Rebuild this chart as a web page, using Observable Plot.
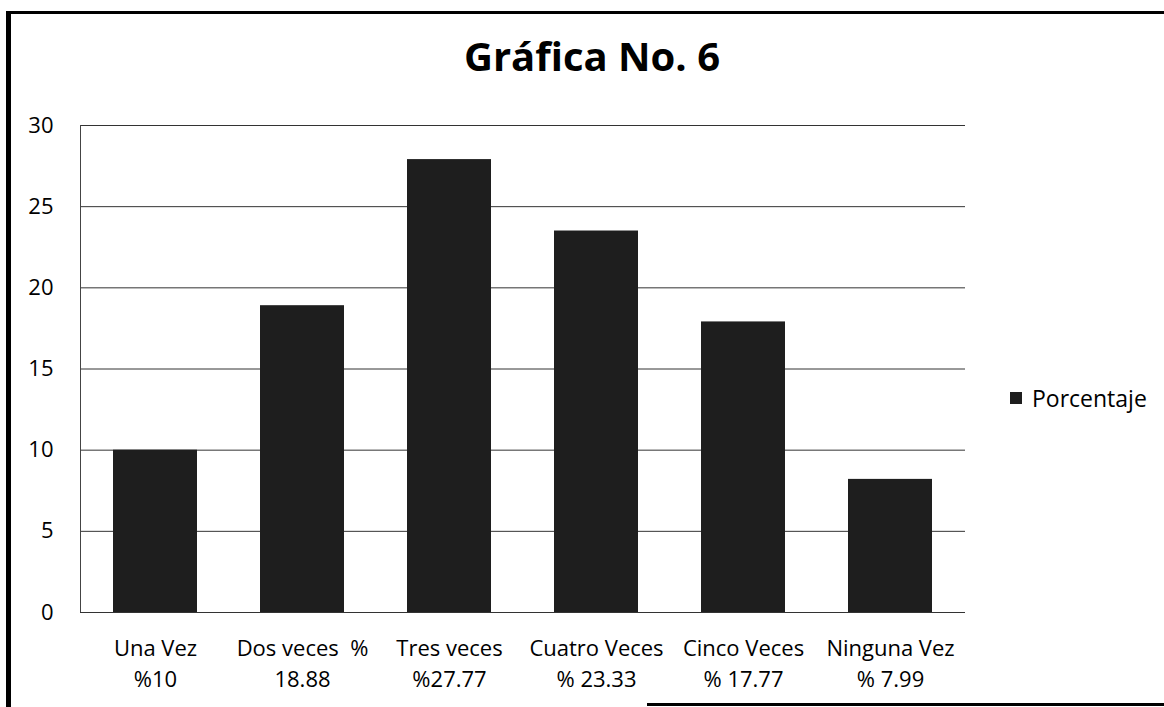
<!DOCTYPE html>
<html>
<head>
<meta charset="utf-8">
<script src="https://cdn.jsdelivr.net/npm/d3@7"></script>
<script src="https://cdn.jsdelivr.net/npm/@observablehq/plot@0.6"></script>
<style>
  html, body { margin: 0; padding: 0; background: #fff; }
  #wrap { position: relative; width: 1164px; height: 707px; overflow: hidden; font-family: "Open Sans", sans-serif; color: #000; }
  #chart { position: absolute; left: 0; top: 0; }
  #title { position: absolute; left: 0; width: 1164px; top: 36px; text-align: center; font-size: 40px; font-weight: 700; line-height: 1; padding-left: 20px; box-sizing: border-box; }
  #legend { position: absolute; left: 1010px; top: 383px; font-size: 23px; line-height: 30px; display: flex; align-items: center; }
  #legend .sw { width: 12px; height: 12px; background: #1e1e1e; margin-right: 10px; }
  .frame { position: absolute; background: #000; }
</style>
</head>
<body>
<div id="wrap">
  <div class="frame" style="left:6px; top:11px; width:5px; height:696px;"></div>
  <div class="frame" style="left:6px; top:11px; width:1158px; height:3px;"></div>
  <div class="frame" style="left:647px; top:703px; width:517px; height:3px;"></div>
  <div id="chart"></div>
  <div id="title">Gráfica No. 6</div>
  <div id="legend"><span class="sw"></span><span>Porcentaje</span></div>
</div>
<script>
const categories = ["Una Vez", "Dos veces", "Tres veces", "Cuatro Veces", "Cinco Veces", "Ninguna Vez"];
const tickLabels = ["Una Vez\n%10", "Dos veces\u00a0 %\n18.88", "Tres veces\n%27.77", "Cuatro Veces\n% 23.33", "Cinco Veces\n% 17.77", "Ninguna Vez\n% 7.99"];
const values = [10, 18.9, 27.9, 23.5, 17.9, 8.2];
const yTicks = [0, 5, 10, 15, 20, 25, 30];

const data = categories.map((c, i) => ({category: c, value: values[i]}));
const labelOf = new Map(categories.map((c, i) => [c, tickLabels[i]]));

const chart = Plot.plot({
  width: 1164,
  height: 707,
  marginLeft: 80,
  marginRight: 199,
  marginTop: 125,
  marginBottom: 95,
  style: {fontFamily: "Open Sans, sans-serif", fontSize: "22px", color: "#000", background: "transparent"},
  x: {domain: categories, paddingInner: 0.43, paddingOuter: 0.215, axis: null},
  y: {domain: [0, 30], axis: null},
  marks: [
    Plot.gridY(yTicks, {stroke: "#333", strokeOpacity: 1, strokeWidth: 1}),
    Plot.frame({anchor: "left", stroke: "#444", strokeDasharray: "1,1"}),
    Plot.barY(data, {x: "category", y: "value", fill: "#1e1e1e"}),
    Plot.ruleY([0], {stroke: "#333", strokeWidth: 1}),
    Plot.axisY(yTicks, {tickSize: 0, tickPadding: 27, fontSize: 22, label: null}),
    Plot.axisX({tickSize: 0, tickPadding: 22, fontSize: 22, lineHeight: 1.4, label: null, tickFormat: d => labelOf.get(d)})
  ]
});
document.getElementById("chart").appendChild(chart);
</script>
</body>
</html>
